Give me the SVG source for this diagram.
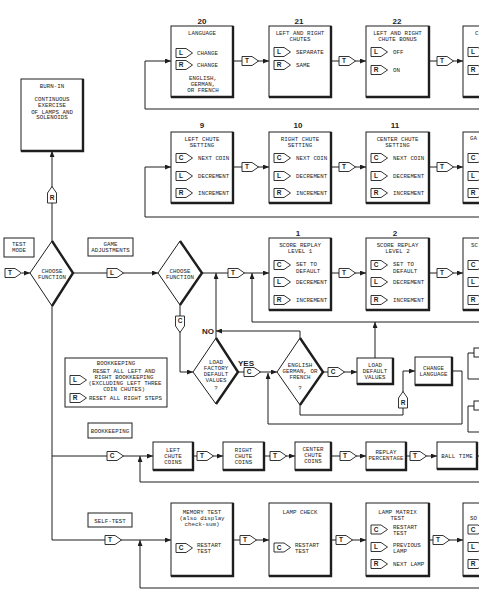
<svg xmlns="http://www.w3.org/2000/svg" xmlns:xlink="http://www.w3.org/1999/xlink" width="479" height="600" viewBox="0 0 479 600">
<defs>
<style>
.bg{fill:#fff}
.bx{fill:#fff;stroke:#1e1e1e;stroke-width:1}
.sh{fill:none;stroke:#1e1e1e;stroke-width:2.4}
.ln{fill:none;stroke:#1e1e1e;stroke-width:1}
.tg{fill:#fff;stroke:#1e1e1e;stroke-width:0.9}
.t{font-family:"Liberation Mono","DejaVu Sans Mono",monospace;font-size:5.8px;fill:#1e1e1e}
.c{text-anchor:middle}
.tl{font-family:"Liberation Sans",Arial,sans-serif;font-weight:bold;font-size:6.5px;fill:#1e1e1e;text-anchor:middle}
.n{font-family:"Liberation Sans",Arial,sans-serif;font-weight:bold;font-size:8px;fill:#1e1e1e;text-anchor:middle}
</style>
<marker id="ah" viewBox="0 0 6 5" refX="6" refY="2.5" markerWidth="6" markerHeight="5" orient="auto" markerUnits="userSpaceOnUse"><path d="M0,0L6,2.5L0,5Z" fill="#1e1e1e"/></marker>
<path id="tgR" class="tg" d="M0,-4.5H10L16.5,0L10,4.5H0Z"/>
<path id="tgU" class="tg" d="M-4.5,0V-10L0,-16.5L4.5,-10V0Z"/>
<path id="tgD" class="tg" d="M-4.5,0V10L0,16.5L4.5,10V0Z"/>
</defs>
<rect class="bg" x="0" y="0" width="479" height="600"/>

<g id="connectors">
<!-- row 1 -->
<path class="ln" d="M480,109H145V61H171" marker-end="url(#ah)"/>
<path class="ln" d="M233,61H269" marker-end="url(#ah)"/>
<path class="ln" d="M331,61H366" marker-end="url(#ah)"/>
<path class="ln" d="M429,61H463" marker-end="url(#ah)"/>
<!-- row 2 -->
<path class="ln" d="M480,217H145V167H171" marker-end="url(#ah)"/>
<path class="ln" d="M233,167H269" marker-end="url(#ah)"/>
<path class="ln" d="M331,167H366" marker-end="url(#ah)"/>
<path class="ln" d="M429,167H463" marker-end="url(#ah)"/>
<!-- row 3 -->
<path class="ln" d="M22,273H30" marker-end="url(#ah)"/>
<path class="ln" d="M73,273H158" marker-end="url(#ah)"/>
<path class="ln" d="M202,273H269" marker-end="url(#ah)"/>
<path class="ln" d="M480,322H252V273" marker-end="url(#ah)"/>
<path class="ln" d="M331,273H366" marker-end="url(#ah)"/>
<path class="ln" d="M429,273H463" marker-end="url(#ah)"/>
<path class="ln" d="M52,241V151" marker-end="url(#ah)"/>
<path class="ln" d="M52,306V540H171" marker-end="url(#ah)"/>
<path class="ln" d="M52,456H153" marker-end="url(#ah)"/>
<path class="ln" d="M180,305V372H193" marker-end="url(#ah)"/>
<path class="ln" d="M216,338V273" marker-end="url(#ah)"/>
<path class="ln" d="M300,338V331H216" marker-end="url(#ah)"/>
<path class="ln" d="M238,372H277" marker-end="url(#ah)"/>
<path class="ln" d="M323,372H357" marker-end="url(#ah)"/>
<path class="ln" d="M375,358V322" marker-end="url(#ah)"/>
<path class="ln" d="M300,405V415H403V371H415" marker-end="url(#ah)"/>
<path class="ln" d="M452,371H462V424H268V373" marker-end="url(#ah)"/>
<!-- bookkeeping -->
<path class="ln" d="M193,456H223" marker-end="url(#ah)"/>
<path class="ln" d="M264,456H295" marker-end="url(#ah)"/>
<path class="ln" d="M331,456H366" marker-end="url(#ah)"/>
<path class="ln" d="M406,456H437" marker-end="url(#ah)"/>
<path class="ln" d="M477,456H480"/>
<path class="ln" d="M480,482H140V456" marker-end="url(#ah)"/>
<!-- self-test -->
<path class="ln" d="M233,540H269" marker-end="url(#ah)"/>
<path class="ln" d="M331,540H366" marker-end="url(#ah)"/>
<path class="ln" d="M429,540H463" marker-end="url(#ah)"/>
<path class="ln" d="M480,588H140V540" marker-end="url(#ah)"/>

<!-- tags on connectors -->
<use xlink:href="#tgR" x="242" y="61"/><text class="tl" x="247" y="63.3">T</text>
<use xlink:href="#tgR" x="339" y="61"/><text class="tl" x="344" y="63.3">T</text>
<use xlink:href="#tgR" x="437" y="61"/><text class="tl" x="442" y="63.3">T</text>
<use xlink:href="#tgR" x="242" y="167"/><text class="tl" x="247" y="169.3">T</text>
<use xlink:href="#tgR" x="339" y="167"/><text class="tl" x="344" y="169.3">T</text>
<use xlink:href="#tgR" x="437" y="167"/><text class="tl" x="442" y="169.3">T</text>
<use xlink:href="#tgR" x="5" y="273"/><text class="tl" x="10" y="275.3">T</text>
<use xlink:href="#tgR" x="107" y="273"/><text class="tl" x="112" y="275.3">L</text>
<use xlink:href="#tgR" x="228" y="273"/><text class="tl" x="233" y="275.3">T</text>
<use xlink:href="#tgR" x="339" y="273"/><text class="tl" x="344" y="275.3">T</text>
<use xlink:href="#tgR" x="437" y="273"/><text class="tl" x="442" y="275.3">T</text>
<use xlink:href="#tgU" x="52" y="203"/><text class="tl" x="52" y="200.3">R</text>
<use xlink:href="#tgD" x="180" y="316"/><text class="tl" x="180" y="323.3">C</text>
<use xlink:href="#tgR" x="244" y="372"/><text class="tl" x="249" y="374.3">C</text>
<use xlink:href="#tgR" x="328" y="372"/><text class="tl" x="333" y="374.3">C</text>
<use xlink:href="#tgU" x="403" y="408"/><text class="tl" x="403" y="405.3">R</text>
<use xlink:href="#tgR" x="107" y="456"/><text class="tl" x="112" y="458.3">C</text>
<use xlink:href="#tgR" x="197" y="456"/><text class="tl" x="202" y="458.3">T</text>
<use xlink:href="#tgR" x="270" y="456"/><text class="tl" x="275" y="458.3">T</text>
<use xlink:href="#tgR" x="340" y="456"/><text class="tl" x="345" y="458.3">T</text>
<use xlink:href="#tgR" x="410" y="456"/><text class="tl" x="415" y="458.3">T</text>
<use xlink:href="#tgR" x="105" y="540"/><text class="tl" x="110" y="542.3">T</text>
<use xlink:href="#tgR" x="240" y="540"/><text class="tl" x="245" y="542.3">T</text>
<use xlink:href="#tgR" x="336" y="540"/><text class="tl" x="341" y="542.3">T</text>
<use xlink:href="#tgR" x="433" y="540"/><text class="tl" x="438" y="542.3">T</text>
<text class="n" x="208" y="334" font-size="7.5">NO</text>
<text class="n" x="246" y="366" font-size="7.5">YES</text>
</g>

<!-- Row 1 -->
<g id="n20">
<text class="n" x="202" y="23.5">20</text>
<rect class="bx" x="171" y="26" width="62" height="71"/><path class="sh" d="M233,26V97H171"/>
<text class="t c" x="202" y="35">LANGUAGE</text>
<use xlink:href="#tgR" x="176" y="53"/><text class="tl" x="181" y="55.3">L</text><text class="t" x="197" y="55">CHANGE</text>
<use xlink:href="#tgR" x="176" y="65"/><text class="tl" x="181" y="67.3">R</text><text class="t" x="197" y="67">CHANGE</text>
<text class="t c" x="203" y="79.5">ENGLISH,</text>
<text class="t c" x="203" y="86">GERMAN,</text>
<text class="t c" x="203" y="92">OR FRENCH</text>
</g>
<g id="n21">
<text class="n" x="299" y="23.5">21</text>
<rect class="bx" x="269" y="26" width="62" height="71"/><path class="sh" d="M331,26V97H269"/>
<text class="t c" x="300" y="35">LEFT AND RIGHT</text>
<text class="t c" x="300" y="41">CHUTES</text>
<use xlink:href="#tgR" x="274" y="52"/><text class="tl" x="279" y="54.3">L</text><text class="t" x="296" y="54">SEPARATE</text>
<use xlink:href="#tgR" x="274" y="65"/><text class="tl" x="279" y="67.3">R</text><text class="t" x="296" y="67">SAME</text>
</g>
<g id="n22">
<text class="n" x="397" y="23.5">22</text>
<rect class="bx" x="366" y="26" width="63" height="71"/><path class="sh" d="M429,26V97H366"/>
<text class="t c" x="397.5" y="35">LEFT AND RIGHT</text>
<text class="t c" x="397.5" y="41">CHUTE BONUS</text>
<use xlink:href="#tgR" x="371" y="52"/><text class="tl" x="376" y="54.3">L</text><text class="t" x="393" y="54">OFF</text>
<use xlink:href="#tgR" x="371" y="70"/><text class="tl" x="376" y="72.3">R</text><text class="t" x="393" y="72">ON</text>
</g>
<g id="n23">
<rect class="bx" x="463" y="26" width="40" height="71"/><path class="sh" d="M463,97H503"/>
<text class="t" x="475" y="35">C</text>
<use xlink:href="#tgR" x="468" y="52"/><text class="tl" x="473" y="54.3">L</text>
<use xlink:href="#tgR" x="468" y="70"/><text class="tl" x="473" y="72.3">R</text>
</g>

<!-- Row 2 -->
<g id="n9">
<text class="n" x="202" y="128">9</text>
<rect class="bx" x="171" y="132" width="62" height="71"/><path class="sh" d="M233,132V203H171"/>
<text class="t c" x="202" y="141">LEFT CHUTE</text>
<text class="t c" x="202" y="147">SETTING</text>
<use xlink:href="#tgR" x="176" y="158"/><text class="tl" x="181" y="160.3">C</text><text class="t" x="198" y="160">NEXT COIN</text>
<use xlink:href="#tgR" x="176" y="176"/><text class="tl" x="181" y="178.3">L</text><text class="t" x="198" y="178">DECREMENT</text>
<use xlink:href="#tgR" x="176" y="193"/><text class="tl" x="181" y="195.3">R</text><text class="t" x="198" y="195">INCREMENT</text>
</g>
<g id="n10">
<text class="n" x="298" y="128">10</text>
<rect class="bx" x="269" y="132" width="62" height="71"/><path class="sh" d="M331,132V203H269"/>
<text class="t c" x="300" y="141">RIGHT CHUTE</text>
<text class="t c" x="300" y="147">SETTING</text>
<use xlink:href="#tgR" x="274" y="158"/><text class="tl" x="279" y="160.3">C</text><text class="t" x="296" y="160">NEXT COIN</text>
<use xlink:href="#tgR" x="274" y="176"/><text class="tl" x="279" y="178.3">L</text><text class="t" x="296" y="178">DECREMENT</text>
<use xlink:href="#tgR" x="274" y="193"/><text class="tl" x="279" y="195.3">R</text><text class="t" x="296" y="195">INCREMENT</text>
</g>
<g id="n11">
<text class="n" x="395" y="128">11</text>
<rect class="bx" x="366" y="132" width="63" height="71"/><path class="sh" d="M429,132V203H366"/>
<text class="t c" x="397.5" y="141">CENTER CHUTE</text>
<text class="t c" x="397.5" y="147">SETTING</text>
<use xlink:href="#tgR" x="371" y="158"/><text class="tl" x="376" y="160.3">C</text><text class="t" x="393" y="160">NEXT COIN</text>
<use xlink:href="#tgR" x="371" y="176"/><text class="tl" x="376" y="178.3">L</text><text class="t" x="393" y="178">DECREMENT</text>
<use xlink:href="#tgR" x="371" y="193"/><text class="tl" x="376" y="195.3">R</text><text class="t" x="393" y="195">INCREMENT</text>
</g>
<g id="n12">
<rect class="bx" x="463" y="132" width="40" height="71"/><path class="sh" d="M463,203H503"/>
<text class="t" x="470" y="140">GA</text>
<use xlink:href="#tgR" x="468" y="158"/><text class="tl" x="473" y="160.3">C</text>
<use xlink:href="#tgR" x="468" y="176"/><text class="tl" x="473" y="178.3">L</text>
<use xlink:href="#tgR" x="468" y="193"/><text class="tl" x="473" y="195.3">R</text>
</g>

<!-- Left side -->
<g id="burnin">
<rect class="bx" x="21" y="79" width="62" height="72"/><path class="sh" d="M83,79V151H21"/>
<text class="t c" x="52" y="87.5">BURN-IN</text>
<text class="t c" x="52" y="101.3">CONTINUOUS</text>
<text class="t c" x="52" y="107">EXERCISE</text>
<text class="t c" x="52" y="113.5">OF LAMPS AND</text>
<text class="t c" x="52" y="119.3">SOLENOIDS</text>
</g>
<g id="testmode">
<rect class="bx" x="4" y="238" width="30" height="19"/>
<text class="t c" x="19" y="246">TEST</text>
<text class="t c" x="19" y="252">MODE</text>
</g>
<g id="choose1">
<path class="bx" d="M52,241L73,273L52,306L30,273Z"/><path class="sh" d="M52,241L73,273L52,306"/>
<text class="t c" x="52" y="272.5">CHOOSE</text>
<text class="t c" x="52" y="278.5">FUNCTION</text>
</g>
<g id="gameadj">
<rect class="bx" x="88" y="238" width="45" height="18"/>
<text class="t c" x="110.5" y="246">GAME</text>
<text class="t c" x="110.5" y="252">ADJUSTMENTS</text>
</g>
<g id="choose2">
<path class="bx" d="M180,241L202,273L180,305L158,273Z"/><path class="sh" d="M180,241L202,273L180,305"/>
<text class="t c" x="180" y="272.5">CHOOSE</text>
<text class="t c" x="180" y="278.5">FUNCTION</text>
</g>

<!-- Row 3 -->
<g id="n1">
<text class="n" x="298" y="236">1</text>
<rect class="bx" x="269" y="238" width="62" height="72"/><path class="sh" d="M331,238V310H269"/>
<text class="t c" x="300" y="247">SCORE REPLAY</text>
<text class="t c" x="300" y="253">LEVEL 1</text>
<use xlink:href="#tgR" x="274" y="265"/><text class="tl" x="279" y="267.3">C</text><text class="t" x="296" y="266">SET TO</text><text class="t" x="296" y="272.5">DEFAULT</text>
<use xlink:href="#tgR" x="274" y="282"/><text class="tl" x="279" y="284.3">L</text><text class="t" x="296" y="284">DECREMENT</text>
<use xlink:href="#tgR" x="274" y="300"/><text class="tl" x="279" y="302.3">R</text><text class="t" x="296" y="302">INCREMENT</text>
</g>
<g id="n2">
<text class="n" x="395" y="236">2</text>
<rect class="bx" x="366" y="238" width="63" height="72"/><path class="sh" d="M429,238V310H366"/>
<text class="t c" x="397.5" y="247">SCORE REPLAY</text>
<text class="t c" x="397.5" y="253">LEVEL 2</text>
<use xlink:href="#tgR" x="371" y="265"/><text class="tl" x="376" y="267.3">C</text><text class="t" x="393" y="266">SET TO</text><text class="t" x="393" y="272.5">DEFAULT</text>
<use xlink:href="#tgR" x="371" y="282"/><text class="tl" x="376" y="284.3">L</text><text class="t" x="393" y="284">DECREMENT</text>
<use xlink:href="#tgR" x="371" y="300"/><text class="tl" x="376" y="302.3">R</text><text class="t" x="393" y="302">INCREMENT</text>
</g>
<g id="n3">
<rect class="bx" x="463" y="238" width="40" height="72"/><path class="sh" d="M463,310H503"/>
<text class="t" x="471" y="247">SC</text>
<use xlink:href="#tgR" x="468" y="265"/><text class="tl" x="473" y="267.3">C</text>
<use xlink:href="#tgR" x="468" y="282"/><text class="tl" x="473" y="284.3">L</text>
<use xlink:href="#tgR" x="468" y="300"/><text class="tl" x="473" y="302.3">R</text>
</g>

<!-- decision area -->
<g id="loadfactory">
<path class="bx" d="M216,338L238,372L216,404L193,372Z"/><path class="sh" d="M216,338L238,372L216,404"/>
<text class="t c" x="216" y="364">LOAD</text>
<text class="t c" x="216" y="370">FACTORY</text>
<text class="t c" x="216" y="376">DEFAULT</text>
<text class="t c" x="216" y="382">VALUES</text>
<text class="t c" x="216" y="390">?</text>
</g>
<g id="language">
<path class="bx" d="M300,338L323,372L300,405L277,372Z"/><path class="sh" d="M300,338L323,372L300,405"/>
<text class="t c" x="300" y="367">ENGLISH</text>
<text class="t c" x="300" y="373">GERMAN, OR</text>
<text class="t c" x="300" y="379">FRENCH</text>
<text class="t c" x="300" y="390">?</text>
</g>
<g id="loaddefault">
<rect class="bx" x="357" y="358" width="36" height="26"/><path class="sh" d="M393,358V384H357"/>
<text class="t c" x="375" y="367">LOAD</text>
<text class="t c" x="375" y="373">DEFAULT</text>
<text class="t c" x="375" y="379">VALUES</text>
</g>
<g id="changelang">
<rect class="bx" x="415" y="357" width="37" height="28"/><path class="sh" d="M452,357V385H415"/>
<text class="t c" x="433.5" y="370">CHANGE</text>
<text class="t c" x="433.5" y="376">LANGUAGE</text>
</g>
<g id="rightpartial1">
<path class="ln" d="M480,353H468V379H480"/>
<rect class="bx" x="474" y="348" width="8" height="9"/>
</g>
<g id="rightpartial2">
<path class="ln" d="M480,406H468V432H480"/>
<rect class="bx" x="474" y="401" width="8" height="9"/>
</g>

<!-- bookkeeping legend -->
<g id="bklegend">
<rect class="bx" x="65" y="358" width="102" height="49"/>
<text class="t c" x="116" y="365">BOOKKEEPING</text>
<text class="t c" x="124" y="373">RESET ALL LEFT AND</text>
<text class="t c" x="124" y="379">RIGHT BOOKKEEPING</text>
<text class="t c" x="125" y="385">(EXCLUDING LEFT THREE</text>
<text class="t c" x="124" y="391">COIN CHUTES)</text>
<use xlink:href="#tgR" x="70" y="380"/><text class="tl" x="75" y="382.3">L</text>
<use xlink:href="#tgR" x="70" y="398"/><text class="tl" x="75" y="400.3">R</text>
<text class="t" x="89" y="400">RESET ALL RIGHT STEPS</text>
</g>
<g id="bklabel">
<rect class="bx" x="88" y="423" width="44" height="15"/>
<text class="t c" x="110" y="433">BOOKKEEPING</text>
</g>
<g id="bk1">
<rect class="bx" x="153" y="442" width="40" height="28"/><path class="sh" d="M193,442V470H153"/>
<text class="t c" x="173" y="452">LEFT</text><text class="t c" x="173" y="458">CHUTE</text><text class="t c" x="173" y="464">COINS</text>
</g>
<g id="bk2">
<rect class="bx" x="223" y="442" width="41" height="28"/><path class="sh" d="M264,442V470H223"/>
<text class="t c" x="243.5" y="452">RIGHT</text><text class="t c" x="243.5" y="458">CHUTE</text><text class="t c" x="243.5" y="464">COINS</text>
</g>
<g id="bk3">
<rect class="bx" x="295" y="442" width="36" height="28"/><path class="sh" d="M331,442V470H295"/>
<text class="t c" x="313" y="450.5">CENTER</text><text class="t c" x="313" y="456.5">CHUTE</text><text class="t c" x="313" y="462.5">COINS</text>
</g>
<g id="bk4">
<rect class="bx" x="366" y="442" width="40" height="28"/><path class="sh" d="M406,442V470H366"/>
<text class="t c" x="386" y="454">REPLAY</text><text class="t c" x="386" y="460">PERCENTAGE</text>
</g>
<g id="bk5">
<rect class="bx" x="437" y="442" width="40" height="27"/><path class="sh" d="M477,442V469H437"/>
<text class="t c" x="457" y="457.5">BALL TIME</text>
</g>

<!-- self-test -->
<g id="stlabel">
<rect class="bx" x="88" y="513" width="44" height="14"/>
<text class="t c" x="110" y="522.5">SELF-TEST</text>
</g>
<g id="memtest">
<rect class="bx" x="171" y="503" width="62" height="73"/><path class="sh" d="M233,503V576H171"/>
<text class="t c" x="202" y="513.5">MEMORY TEST</text>
<text class="t c" x="202" y="520">(also display</text>
<text class="t c" x="202" y="526">check-sum)</text>
<use xlink:href="#tgR" x="176" y="548"/><text class="tl" x="181" y="550.3">C</text><text class="t" x="197" y="546.5">RESTART</text><text class="t" x="197" y="552.5">TEST</text>
</g>
<g id="lampcheck">
<rect class="bx" x="269" y="503" width="62" height="73"/><path class="sh" d="M331,503V576H269"/>
<text class="t c" x="300" y="513.5">LAMP CHECK</text>
<use xlink:href="#tgR" x="274" y="547.5"/><text class="tl" x="279" y="549.8">C</text><text class="t" x="295" y="546.5">RESTART</text><text class="t" x="295" y="552.5">TEST</text>
</g>
<g id="lampmatrix">
<rect class="bx" x="366" y="503" width="63" height="73"/><path class="sh" d="M429,503V576H366"/>
<text class="t c" x="397.5" y="513.5">LAMP MATRIX</text>
<text class="t c" x="397.5" y="519.5">TEST</text>
<use xlink:href="#tgR" x="371" y="529.5"/><text class="tl" x="376" y="531.8">C</text><text class="t" x="393" y="529">RESTART</text><text class="t" x="393" y="535">TEST</text>
<use xlink:href="#tgR" x="371" y="547"/><text class="tl" x="376" y="549.3">L</text><text class="t" x="393" y="547">PREVIOUS</text><text class="t" x="393" y="553">LAMP</text>
<use xlink:href="#tgR" x="371" y="564"/><text class="tl" x="376" y="566.3">R</text><text class="t" x="393" y="566">NEXT LAMP</text>
</g>
<g id="st4">
<rect class="bx" x="463" y="503" width="40" height="73"/><path class="sh" d="M463,576H503"/>
<text class="t" x="470" y="520">SO</text>
<use xlink:href="#tgR" x="468" y="529.5"/><text class="tl" x="473" y="531.8">C</text>
<use xlink:href="#tgR" x="468" y="547"/><text class="tl" x="473" y="549.3">L</text>
<use xlink:href="#tgR" x="468" y="564"/><text class="tl" x="473" y="566.3">R</text>
</g>
</svg>
